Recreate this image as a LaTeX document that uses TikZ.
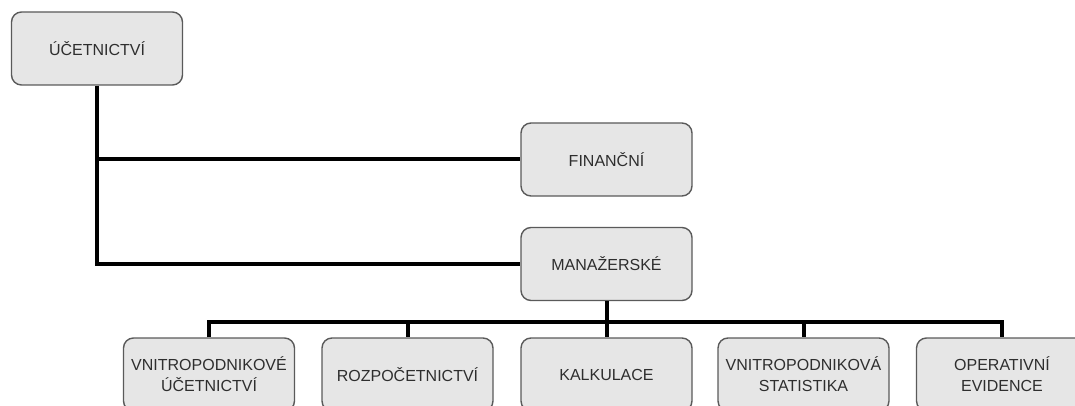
\documentclass[tikz,border=0pt]{standalone}
\usepackage{fontspec}
\setmainfont{Liberation Sans}
\definecolor{boxfill}{HTML}{E6E6E6}
\definecolor{boxline}{HTML}{5A5A5A}
\definecolor{boxtext}{HTML}{2E2E2E}
\begin{document}
\begin{tikzpicture}[x=1pt,y=-1pt,
  box/.style={draw=boxline, line width=1.4pt, fill=boxfill, rounded corners=10pt,
    minimum width=171pt, minimum height=73pt, inner sep=2pt, align=center,
    text=boxtext, font=\fontsize{16}{21}\selectfont},
  conn/.style={line width=4pt, black, line join=miter}]
\useasboundingbox (0,0) rectangle (1075,406);
\clip (0,0) rectangle (1075,406);
\node[box] (root) at (97,48.5) {ÚČETNICTVÍ};
\node[box] (fin) at (606.5,159.5) {FINANČNÍ};
\node[box] (man) at (606.5,264) {MANAŽERSKÉ};
\node[box] (b1) at (209,374.5) {VNITROPODNIKOVÉ\\ÚČETNICTVÍ};
\node[box] (b2) at (407.5,374.5) {ROZPOČETNICTVÍ};
\node[box] (b3) at (606.5,374.5) {KALKULACE};
\node[box] (b4) at (803.5,374.5) {VNITROPODNIKOVÁ\\STATISTIKA};
\node[box] (b5) at (1002,374.5) {OPERATIVNÍ\\EVIDENCE};
\coordinate (bus) at (606.5,322);
\coordinate (busL) at (209,322);
\coordinate (busR) at (1002,322);
\draw[conn] (root.south) |- (man.west);
\draw[conn] (root.south |- fin.west) -- (fin.west);
\draw[conn] (man.south) -- (bus);
\draw[conn] (b1.north) -- (busL) -- (busR) -- (b5.north);
\draw[conn] (bus -| b2.north) -- (b2.north);
\draw[conn] (bus -| b3.north) -- (b3.north);
\draw[conn] (bus -| b4.north) -- (b4.north);
\end{tikzpicture}
\end{document}
